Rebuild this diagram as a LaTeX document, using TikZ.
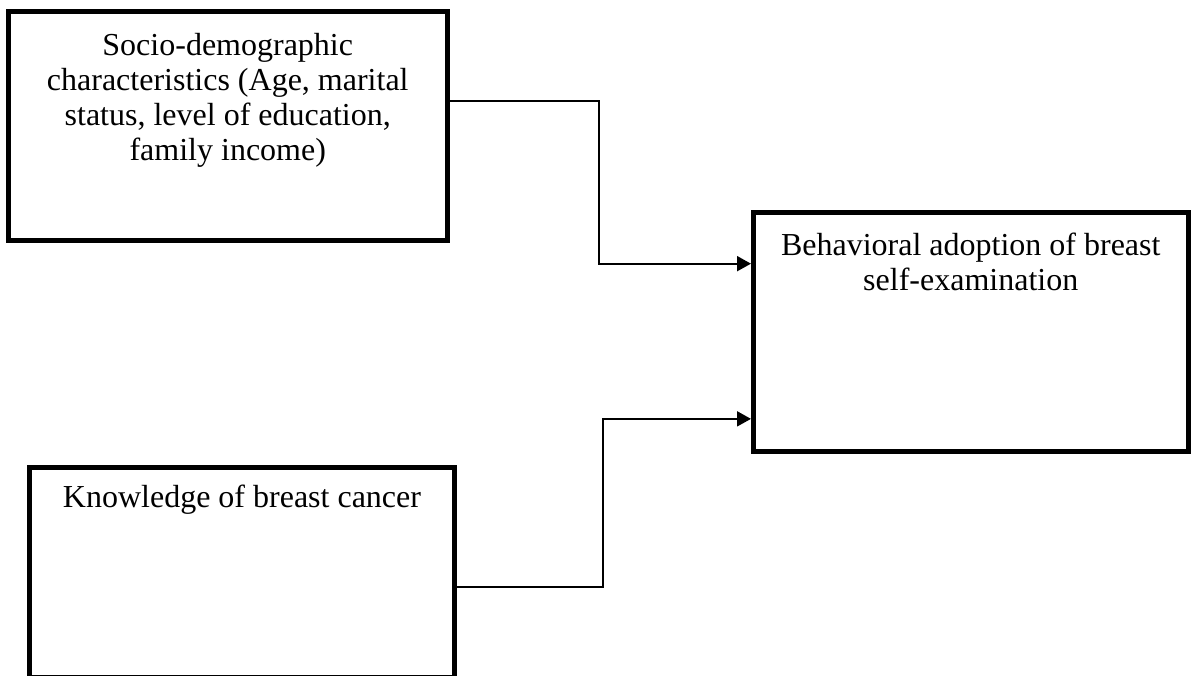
\documentclass[tikz,border=0pt]{standalone}
\usepackage{fontspec}
\setmainfont{Liberation Serif}
\usetikzlibrary{arrows.meta}
\usetikzlibrary{calc}

\tikzset{
  factor/.style={draw, line width=2pt, rectangle, inner sep=0pt},
  caption/.style={align=center, inner sep=0pt, font=\fontsize{12.8}{14}\selectfont},
  flow/.style={line width=0.8pt, -{Triangle[length=5.6pt, width=6pt]}}
}

\begin{document}
\begin{tikzpicture}[x=0.4pt, y=-0.4pt]
  \useasboundingbox (0,0) rectangle (1195,675);
  \clip (0,0) rectangle (1195,675);

  % Blocks
  \node[factor, minimum width=175.4pt, minimum height=91.4pt] (socio) at (227.75,125.75) {};
  \node[factor, minimum width=173.8pt, minimum height=95.6pt] (bse) at (970.75,331.5) {};
  \node[factor, minimum width=170pt, minimum height=83.8pt] (know) at (242,572.25) {};

  % texts (base = last line)
  \node[caption, anchor=base] (socio text) at (227.75,160) {Socio-demographic\\characteristics (Age, marital\\status, level of education,\\family income)};
  \node[caption, anchor=base] (bse text) at (970.75,290) {Behavioral adoption of breast\\self-examination};
  \node[caption, anchor=base] (know text) at (242,507) {Knowledge of breast cancer};

  % arrows
  \draw[flow] ($(socio.north east)!0.392!(socio.south east)$) -| (599,180) |- ($(bse.north west)!0.222!(bse.south west)$);
  \draw[flow] ($(know.north east)!0.570!(know.south east)$) -| (603,500) |- ($(bse.north west)!0.858!(bse.south west)$);

\end{tikzpicture}
\end{document}
